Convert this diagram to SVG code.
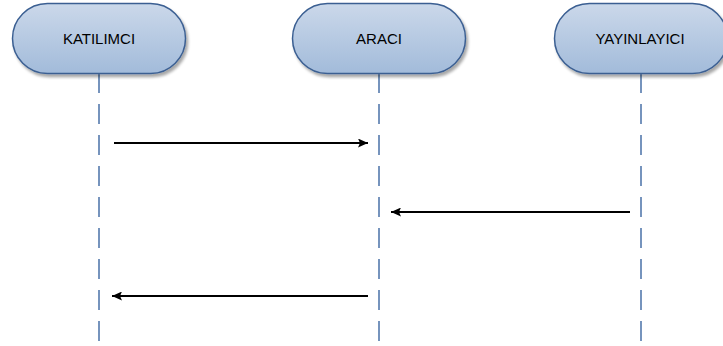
<svg xmlns="http://www.w3.org/2000/svg" width="723" height="346" viewBox="0 0 723 346">
  <defs>
    <linearGradient id="nodeFill" x1="0" y1="0" x2="0" y2="1">
      <stop offset="0" stop-color="#cbd8ea"/>
      <stop offset="1" stop-color="#a2bbda"/>
    </linearGradient>
    <filter id="shadow" x="-10%" y="-20%" width="125%" height="150%">
      <feGaussianBlur in="SourceAlpha" stdDeviation="1.5"/>
      <feOffset dx="2" dy="2.5" result="off"/>
      <feComponentTransfer><feFuncA type="linear" slope="0.35"/></feComponentTransfer>
      <feMerge><feMergeNode/><feMergeNode in="SourceGraphic"/></feMerge>
    </filter>
    <marker id="arrow" markerWidth="11" markerHeight="9" refX="10" refY="4.5" orient="auto" markerUnits="userSpaceOnUse">
      <path d="M0,0 L10,4.5 L0,9 L2,4.5 Z" fill="#000"/>
    </marker>
  </defs>
  <style>
    .actor { fill: url(#nodeFill); stroke: #3b5f92; stroke-width: 1.5; filter: url(#shadow); }
    .label { font-family: "Liberation Sans", Arial, sans-serif; font-size: 15px; fill: #000; text-anchor: middle; }
    .lifeline { stroke: #4a72a8; stroke-width: 1.5; stroke-dasharray: 20 11; fill: none; }
    .msg { stroke: #000; stroke-width: 2; fill: none; marker-end: url(#arrow); }
  </style>
  <rect width="723" height="346" fill="#fff"/>

  <g id="lifelines">
    <line class="lifeline" x1="99" y1="73" x2="99" y2="346"/>
    <line class="lifeline" x1="379" y1="73" x2="379" y2="346"/>
    <line class="lifeline" x1="641" y1="73" x2="641" y2="346"/>
  </g>

  <g id="katilimci">
    <rect class="actor" x="12.5" y="3.5" width="173" height="70" rx="35" ry="35"/>
    <text class="label" x="99" y="44">KATILIMCI</text>
  </g>
  <g id="araci">
    <rect class="actor" x="292.5" y="3.5" width="173" height="70" rx="35" ry="35"/>
    <text class="label" x="379" y="44">ARACI</text>
  </g>
  <g id="yayinlayici">
    <rect class="actor" x="554.5" y="3.5" width="173" height="70" rx="35" ry="35"/>
    <text class="label" x="640" y="44">YAYINLAYICI</text>
  </g>

  <g id="connectors">
    <line class="msg" x1="114" y1="143" x2="368" y2="143"/>
    <line class="msg" x1="630" y1="212" x2="391" y2="212"/>
    <line class="msg" x1="368" y1="296" x2="112" y2="296"/>
  </g>
</svg>
